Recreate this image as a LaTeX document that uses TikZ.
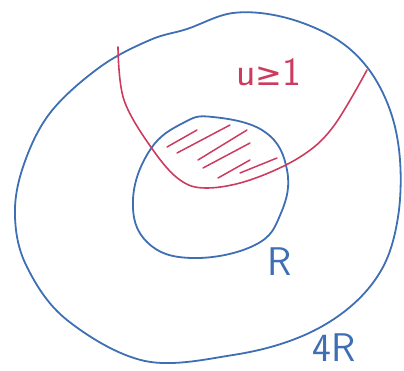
\documentclass[tikz,border=0pt]{standalone}
\usepackage{fontspec}
\newfontfamily\symfont{DejaVu Sans}
\usepackage{tikz}
\usetikzlibrary{positioning}
\definecolor{penblue}{RGB}{62,110,180}
\definecolor{penred}{RGB}{205,60,95}
\tikzset{
  bl/.style={penblue, line width=1.8pt, line cap=round, line join=round},
  rd/.style={penred, line width=1.6pt, line cap=round, line join=round},
  hatch/.style={penred, line width=1.5pt, line cap=round},
  lbl/.style={font=\sffamily\fontsize{40}{42}\selectfont, inner sep=0pt}
}
\begin{document}
\begin{tikzpicture}[x=1pt, y=-1pt]
    \useasboundingbox (0,0) rectangle (404,370);

    % === Outer disc: 4R ===
    \draw[bl] plot[smooth cycle, tension=0.6] coordinates {
      (145,361) (67,320) (27,267) (15,217) (23,167) (50,113) (100,67)
      (150,40) (187,29) (233,13) (283,17) (333,37) (367,67) (390,110)
      (400,160) (398,217) (383,267) (350,307) (300,337) (233,355)};

    % === Inner disc: R ===
    \draw[bl] plot[smooth cycle, tension=0.7] coordinates {
      (213,117) (265,132) (287,170) (281,213) (255,245) (192,258)
      (147,242) (133,200) (150,150) (183,123)};

    % === Level curve u = 1 ===
    \draw[rd] plot[smooth, tension=0.6] coordinates {
      (118,47) (124,100) (153,150) (180,180) (207,188) (250,180)
      (300,157) (333,127) (367,70)};

    % Hatching of the overlap
    \foreach \xa/\ya/\xb/\yb in {167/147/197/130, 177/153/230/125, 198/160/247/130,
                                 203/168/250/143, 218/178/250/160, 240/173/277/158} {
        \draw[hatch] (\xa,\ya) -- (\xb,\yb);
    }

    % Labels
    \node[lbl, penred] (ulab) at (269,72) {u{\symfont\fontsize{32}{34}\selectfont ≥}1};
    \node[lbl, penblue] (rlab) at (280,262) {R};
    \node[lbl, penblue] (flab) at (334,348) {4R};

\end{tikzpicture}
\end{document}
